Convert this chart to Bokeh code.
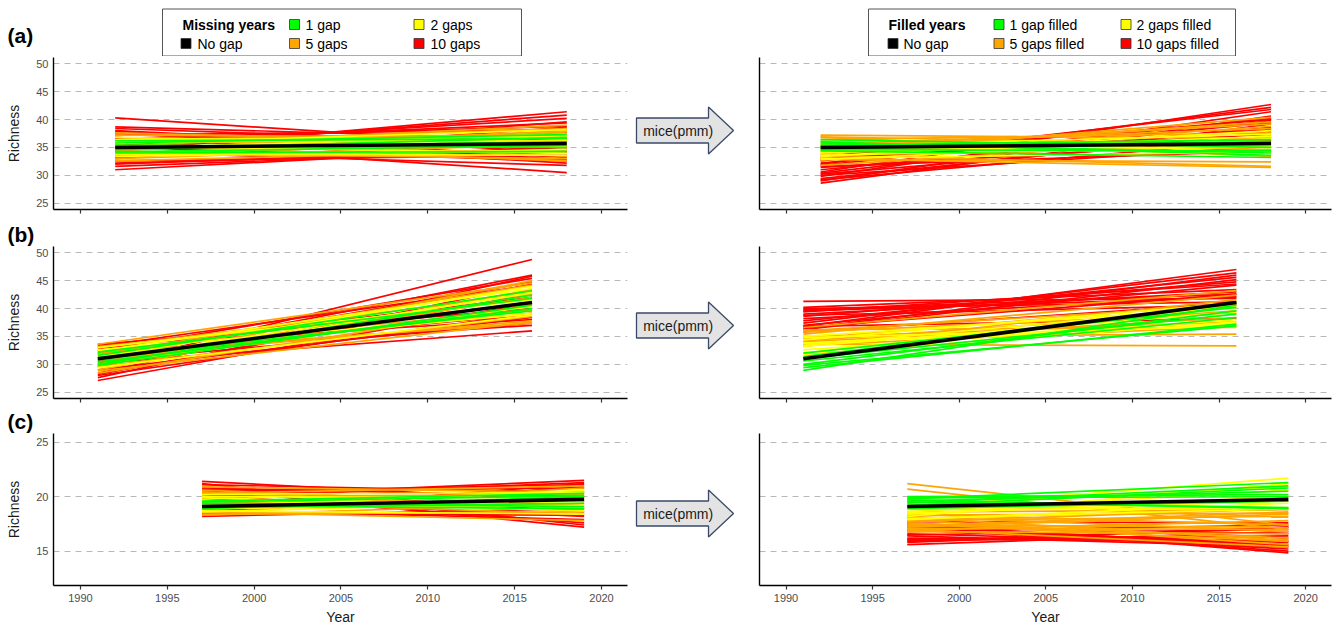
from bokeh.plotting import figure
from bokeh.layouts import column, row
from bokeh.models import Range1d, Title
from bokeh.embed import file_html
from bokeh.resources import INLINE
from bokeh.core.properties import value

FONT = "Liberation Sans"

# ---------------- data ----------------
YEAR_TICKS = [1990, 1995, 2000, 2005, 2010, 2015, 2020]
RICH_TICKS_AB = [25, 30, 35, 40, 45, 50]
RICH_TICKS_C = [15, 20, 25]

GROUP_NAMES = ["1 gap", "2 gaps", "5 gaps", "10 gaps"]
FILLED_NAMES = ["1 gap filled", "2 gaps filled", "5 gaps filled", "10 gaps filled"]
GROUP_COLORS = ["#00FF00", "#FFFF00", "#FFA500", "#FF0000"]

# site (a)
YEARS_A = [1992, 2018]
NOGAP_A = [35.0, 35.7]
MISS_A_1 = [(36.2, 36.6), (35.8, 37.3), (35.4, 35.0), (34.6, 36.8), (34.2, 35.4), (34.0, 34.3), (35.0, 36.0)]
MISS_A_2 = [(36.8, 35.2), (36.3, 37.0), (35.7, 38.2), (34.8, 37.4), (34.0, 36.4), (33.4, 34.6), (33.8, 33.6),
            (35.2, 34.0), (36.0, 36.2)]
MISS_A_5 = [(37.6, 35.6), (37.2, 36.8), (36.8, 33.4), (36.4, 37.4), (35.8, 38.4), (35.2, 39.0), (34.4, 38.0),
            (33.6, 36.2), (33.0, 35.6), (32.6, 34.6), (34.0, 33.0), (35.4, 32.6), (36.2, 35.0), (33.4, 37.8)]
MISS_A_10 = [(40.3, 35.0), (38.7, 36.4), (38.4, 35.6), (38.0, 34.2), (37.6, 32.8), (37.2, 38.2), (36.6, 38.8),
             (36.0, 39.4), (35.4, 40.2), (34.4, 41.4), (34.8, 40.8), (33.8, 37.6), (33.4, 36.6), (33.0, 38.6),
             (32.6, 33.6), (32.2, 34.2), (32.0, 35.0), (31.6, 34.6), (31.0, 35.2), (34.2, 31.8), (35.8, 30.5),
             (36.8, 32.2), (37.9, 33.2), (35.0, 32.6), (33.2, 39.6)]
FILL_A_1 = [(36.4, 35.0), (35.4, 36.4), (34.4, 33.2), (35.8, 34.0), (34.8, 35.6), (36.0, 33.6), (35.2, 36.0),
            (34.6, 34.4)]
FILL_A_2 = [(35.2, 37.4), (34.4, 36.0), (33.4, 38.0), (33.0, 34.2), (35.0, 34.0), (34.0, 37.0), (33.6, 35.2),
            (32.8, 36.6), (34.8, 35.0)]
FILL_A_5 = [(37.2, 36.6), (36.9, 35.4), (36.4, 37.6), (36.0, 34.6), (33.8, 40.4), (34.4, 39.6), (33.6, 31.6),
            (34.0, 36.4), (32.8, 32.4), (35.0, 39.2), (36.8, 33.4), (33.2, 38.8), (31.8, 36.8), (33.0, 31.4),
            (35.6, 38.4)]
FILL_A_10 = [(28.6, 39.2), (29.0, 40.6), (29.4, 37.8), (29.8, 41.4), (30.2, 37.0), (30.6, 42.7), (31.0, 38.6),
             (31.4, 36.2), (31.8, 40.2), (32.2, 39.4), (32.6, 41.8), (33.0, 37.4), (33.4, 40.0), (30.0, 35.2),
             (31.6, 34.4), (32.8, 38.2), (29.2, 36.4), (32.0, 42.2), (30.4, 39.8)]

# site (b)
YEARS_B = [1991, 2016]
NOGAP_B = [31.0, 41.1]
MISS_B_1 = [(32.2, 41.8), (31.6, 43.2), (30.4, 40.0), (30.0, 42.4), (31.2, 39.6), (30.8, 41.2), (29.8, 40.6)]
MISS_B_2 = [(33.0, 41.6), (32.4, 43.6), (31.6, 39.2), (30.8, 42.8), (30.0, 40.4), (29.4, 38.8), (31.2, 44.0),
            (29.8, 43.0), (32.6, 39.0)]
MISS_B_5 = [(33.6, 44.6), (33.0, 42.6), (32.4, 39.8), (31.8, 44.2), (31.2, 37.8), (30.4, 42.0), (29.6, 38.6),
            (29.0, 43.4), (28.4, 40.6), (30.0, 45.0), (32.0, 37.4), (28.8, 37.6), (33.2, 40.8)]
MISS_B_10 = [(27.1, 41.0), (27.6, 44.4), (28.0, 39.2), (28.4, 45.8), (29.0, 38.4), (29.5, 48.8), (29.8, 43.0),
             (30.2, 36.0), (30.6, 37.4), (31.2, 44.8), (31.8, 39.0), (32.4, 45.4), (32.8, 42.0), (33.2, 44.2),
             (33.6, 40.0), (32.0, 37.0), (28.2, 42.6), (33.4, 38.0), (30.8, 46.0)]
FILL_B_1 = [(32.0, 40.2), (31.4, 41.0), (30.6, 38.4), (30.0, 39.6), (29.4, 37.2), (28.9, 40.6), (29.8, 36.9),
            (31.0, 39.0)]
FILL_B_2 = [(35.0, 40.2), (34.4, 41.0), (33.8, 37.2), (33.2, 39.4), (32.6, 38.0), (32.0, 40.6), (34.8, 36.8),
            (31.8, 37.6), (33.4, 40.4)]
FILL_B_5 = [(36.6, 43.2), (36.0, 40.6), (35.4, 42.4), (34.8, 37.6), (34.2, 39.6), (33.6, 33.3), (35.0, 35.4),
            (33.2, 41.6), (36.2, 36.6), (34.0, 38.4), (35.8, 39.2), (33.4, 36.8), (34.6, 41.0)]
FILL_B_10 = [(41.3, 41.8), (36.8, 47.0), (37.4, 46.4), (36.4, 46.0), (40.2, 43.4), (39.8, 42.6), (39.4, 44.4),
             (39.0, 43.0), (38.6, 44.8), (38.2, 42.2), (37.8, 45.6), (37.0, 44.2), (36.6, 42.6), (36.2, 45.2),
             (38.8, 40.6), (40.0, 41.2), (36.8, 38.2), (35.8, 41.0), (39.6, 42.0)]

# site (c)
YEARS_C = [1997, 2019]
NOGAP_C = [19.1, 19.75]
MISS_C_1 = [(19.6, 20.3), (19.4, 19.1), (18.9, 20.0), (19.2, 18.9), (19.5, 20.1), (19.0, 19.4)]
MISS_C_2 = [(20.2, 20.4), (19.9, 19.0), (18.7, 18.4), (19.0, 20.6), (18.6, 19.6), (19.7, 18.7), (20.0, 19.9),
            (18.9, 19.2)]
MISS_C_5 = [(20.9, 20.4), (20.6, 19.2), (20.3, 21.0), (18.4, 18.6), (18.6, 17.8), (20.0, 20.2), (18.9, 20.8),
            (19.6, 18.4), (18.3, 19.4), (20.4, 18.9), (19.2, 20.5)]
MISS_C_10 = [(21.4, 19.6), (21.1, 20.4), (20.9, 18.6), (20.6, 20.8), (20.4, 21.1), (20.2, 17.6), (20.0, 21.5),
             (20.7, 17.2), (18.4, 21.2), (18.5, 18.3), (18.2, 18.9), (18.8, 17.9), (19.8, 18.2), (20.8, 20.0),
             (18.6, 20.9), (21.2, 17.4), (19.9, 21.3)]
FILL_C_1 = [(20.0, 20.2), (19.8, 21.3), (19.5, 19.0), (19.2, 20.8), (19.6, 20.5), (18.9, 19.6), (19.4, 21.0),
            (19.7, 18.9), (19.9, 20.0)]
FILL_C_2 = [(19.0, 21.7), (18.6, 20.6), (18.2, 21.2), (17.9, 19.4), (18.8, 19.0), (18.4, 20.0), (19.2, 20.9),
            (18.0, 18.9), (18.5, 19.6)]
FILL_C_5 = [(21.2, 17.4), (20.7, 17.0), (18.0, 18.9), (17.6, 16.2), (17.2, 18.4), (17.9, 15.6), (17.4, 17.2),
            (16.9, 17.8), (18.2, 16.8), (17.0, 15.4), (17.7, 18.9), (18.4, 17.4), (18.6, 18.8), (17.3, 18.6),
            (18.1, 16.0), (17.8, 18.2), (16.8, 16.6), (18.3, 18.5), (17.5, 15.9), (17.1, 17.0)]
FILL_C_10 = [(15.6, 16.8), (15.9, 17.2), (16.2, 16.0), (16.4, 15.4), (16.6, 15.6), (16.8, 17.4), (17.0, 15.2),
             (17.2, 16.6), (17.5, 16.2), (17.7, 17.6), (16.0, 16.4), (16.5, 17.0), (17.4, 15.0), (15.8, 17.2),
             (17.6, 14.85), (16.9, 15.8), (17.3, 15.5), (16.1, 15.9)]

ARROW_TEXT = "mice(pmm)"

# ---------------- layout constants ----------------
FRAME_H = 152
LEFT_XR = (1988.446, 2021.497)
RIGHT_XR = (1988.47, 2021.49)
YR_AB = (23.87, 51.13)
YR_C = (11.85, 25.8)
TICK_GRAY = "#4d4d4d"


def style_common(p):
    p.outline_line_color = None
    p.border_fill_color = "white"
    p.background_fill_color = "white"
    p.xgrid.visible = False
    p.ygrid.grid_line_color = "#b8b8b8"
    p.ygrid.grid_line_dash = "6 5"
    p.ygrid.grid_line_width = 1.2
    for ax in (p.xaxis[0], p.yaxis[0]):
        ax.axis_line_color = "black"
        ax.axis_line_width = 1.4
        ax.minor_tick_line_color = None
        ax.minor_tick_out = 0
        ax.minor_tick_in = 0
        ax.major_tick_in = 0
        ax.major_label_text_font = FONT
        ax.axis_label_text_font = FONT
        ax.axis_label_text_font_style = "normal"


def hide_labels(ax):
    ax.major_label_text_font_size = "1px"
    ax.major_label_text_color = None
    ax.major_label_standoff = 0


def build_panel(years, nogap, groups, y_range, y_ticks, side, b_top, b_bottom, x_labels, letter=None,
                letter_standoff=0):
    if side == "left":
        w, mbl, mbr, xr = 632, 53, 5, LEFT_XR
    else:
        w, mbl, mbr, xr = 582, 5, 5, RIGHT_XR
    p = figure(width=w, height=b_top + FRAME_H + b_bottom,
               x_range=Range1d(*xr), y_range=Range1d(*y_range),
               output_backend="svg", toolbar_location=None,
               min_border_left=mbl, min_border_right=mbr,
               min_border_top=b_top, min_border_bottom=b_bottom)
    if letter:
        p.title = Title(text=letter, align="left", offset=-46, standoff=letter_standoff,
                        text_font=FONT, text_font_size="21px", text_font_style="bold",
                        text_color="black")
    style_common(p)
    p.xaxis.ticker = YEAR_TICKS
    p.yaxis.ticker = y_ticks
    # x axis
    p.xaxis.major_tick_out = 4
    p.xaxis.major_tick_line_color = "#333333"
    p.xaxis.major_tick_line_width = 1.2
    if x_labels:
        p.xaxis.major_label_text_font_size = "11px"
        p.xaxis.major_label_text_color = TICK_GRAY
        p.xaxis.major_label_standoff = 4
        p.xaxis.axis_label = "Year"
        p.xaxis.axis_label_text_font_size = "14px"
        p.xaxis.axis_label_text_color = "#1a1a1a"
        p.xaxis.axis_label_standoff = 4
    else:
        hide_labels(p.xaxis[0])
    # y axis
    p.yaxis.major_tick_out = 0
    p.yaxis.major_tick_line_color = None
    if side == "left":
        p.yaxis.major_label_text_font_size = "11px"
        p.yaxis.major_label_text_color = TICK_GRAY
        p.yaxis.major_label_standoff = 5
        p.yaxis.axis_label = "Richness"
        p.yaxis.axis_label_text_font_size = "14px"
        p.yaxis.axis_label_text_color = "#1a1a1a"
        p.yaxis.axis_label_standoff = 11
    else:
        hide_labels(p.yaxis[0])
    # spaghetti lines: 10 gaps first, 1 gap last
    for vals, color in zip(reversed(groups), reversed(GROUP_COLORS)):
        p.multi_line(xs=[list(years) for _ in vals], ys=[list(v) for v in vals],
                     line_color=color, line_width=1.7)
    p.line(years, nogap, line_color="black", line_width=3.6)
    return p


ARROW_X = [4, 76, 76, 101, 76, 76, 4]
ARROW_DY = [12.5, 12.5, 23.5, 0, -23.5, -12.5, -12.5]


def build_arrow(b_top, b_bottom, dy):
    p = figure(width=122, height=b_top + FRAME_H + b_bottom,
               x_range=Range1d(0, 122), y_range=Range1d(0, FRAME_H),
               output_backend="svg", toolbar_location=None,
               min_border_left=0, min_border_right=0,
               min_border_top=b_top, min_border_bottom=b_bottom,
               x_axis_type=None, y_axis_type=None)
    p.outline_line_color = None
    p.grid.visible = False
    cy = FRAME_H / 2 + dy
    p.patch(ARROW_X, [cy + d for d in ARROW_DY], fill_color="#e3e3e3",
            line_color="#3a4a68", line_width=1.3)
    p.text(x=[45.7], y=[cy], text=[ARROW_TEXT], text_font=value(FONT), text_font_size="14px",
           text_align="center", text_baseline="middle", text_color="#1a1a1a")
    return p


# ---------------- header with legends ----------------
HEADER_H = 56
header = figure(width=1336, height=HEADER_H, x_range=Range1d(0, 1336), y_range=Range1d(HEADER_H, 0),
                output_backend="svg", toolbar_location=None,
                min_border_left=0, min_border_right=0, min_border_top=0, min_border_bottom=0,
                x_axis_type=None, y_axis_type=None)
header.outline_line_color = None
header.grid.visible = False
header.text(x=[7], y=[34.7], text=["(a)"], text_font=value(FONT), text_font_size="21px",
            text_font_style="bold", text_baseline="middle", text_color="black")


def draw_legend(fig, box_l, box_r, title_x, sw_x, tx_x, title, names):
    fig.quad(left=[box_l], right=[box_r], top=[8.5], bottom=[55.5], fill_color="white",
             line_color="#555555", line_width=1)
    rows_y = [24, 43]
    fig.text(x=[title_x], y=[rows_y[0]], text=[title], text_font=value(FONT), text_font_size="14px",
             text_font_style="bold", text_baseline="middle", text_color="black")
    labels = ["No gap"] + names
    colors = ["#000000"] + GROUP_COLORS
    pos = [(0, 1), (1, 0), (2, 0), (1, 1), (2, 1)]  # (column, row) for No gap, 1, 2, 5, 10
    xs = [sw_x[c] for c, r in pos]
    ys = [rows_y[r] for c, r in pos]
    lx = [tx_x[c] for c, r in pos]
    fig.rect(x=xs, y=ys, width=10, height=10, fill_color=colors, line_color="#333333", line_width=0.8)
    fig.text(x=lx, y=ys, text=labels, text_font=value(FONT), text_font_size="14px",
             text_baseline="middle", text_color="black")


draw_legend(header, 162, 521, 182, [185.5, 294, 418.5], [197, 305, 430], "Missing years", GROUP_NAMES)
draw_legend(header, 868, 1235, 888, [892.5, 998.5, 1125.5], [903, 1009, 1136], "Filled years", FILLED_NAMES)

# ---------------- panels ----------------
ROWS = [
    # years, nogap, missing, filled, yrange, ticks, top, bottom, xlabels, arrow dy, letter, letter standoff
    (YEARS_A, NOGAP_A, [MISS_A_1, MISS_A_2, MISS_A_5, MISS_A_10], [FILL_A_1, FILL_A_2, FILL_A_5, FILL_A_10],
     YR_AB, RICH_TICKS_AB, 1, 10, False, 3, None, 0),
    (YEARS_B, NOGAP_B, [MISS_B_1, MISS_B_2, MISS_B_5, MISS_B_10], [FILL_B_1, FILL_B_2, FILL_B_5, FILL_B_10],
     YR_AB, RICH_TICKS_AB, 27, 8, False, -3, "(b)", 2),
    (YEARS_C, NOGAP_C, [MISS_C_1, MISS_C_2, MISS_C_5, MISS_C_10], [FILL_C_1, FILL_C_2, FILL_C_5, FILL_C_10],
     YR_C, RICH_TICKS_C, 27, 42, True, -4, "(c)", 1),
]

rows = [header]
for years, nogap, miss, fill, yr, ticks, bt, bb, xl, ady, letter, lso in ROWS:
    left = build_panel(years, nogap, miss, yr, ticks, "left", bt, bb, xl, letter, lso)
    arrow = build_arrow(bt, bb, ady)
    right = build_panel(years, nogap, fill, yr, ticks, "right", bt, bb, xl)
    rows.append(row(left, arrow, right))

layout = column(*rows)
open("out.html", "w").write(file_html(layout, INLINE))
